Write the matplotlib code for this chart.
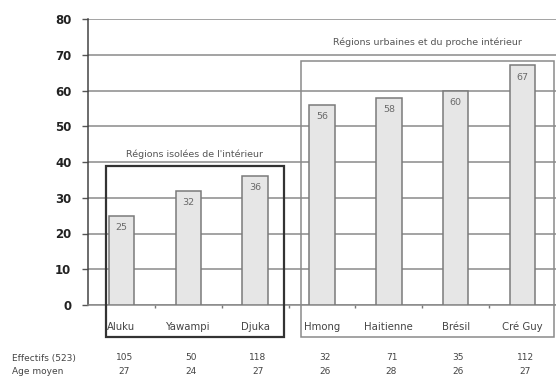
import matplotlib.pyplot as plt
from matplotlib.patches import Rectangle
import matplotlib.transforms as mtransforms

# Données par groupe
groupes = ['Aluku', 'Yawampi', 'Djuka', 'Hmong', 'Haitienne', 'Brésil', 'Cré Guy']
valeurs = [25, 32, 36, 56, 58, 60, 67]
effectifs = [105, 50, 118, 32, 71, 35, 112]
ages = [27, 24, 27, 26, 28, 26, 27]

plt.rcParams['font.family'] = ['DejaVu Sans']

fig = plt.figure(figsize=(5.56, 3.79), dpi=100)
ax = fig.add_axes([88 / 556, 1 - 305 / 379, 1 - 88 / 556, (305 - 19) / 379])

x = list(range(len(groupes)))
ax.bar(x, valeurs, width=0.38, color='#e6e6e6', edgecolor='#7a7a7a',
       linewidth=1.1, zorder=3)
for xi, v in zip(x, valeurs):
    ax.text(xi, v - 2.0, str(v), ha='center', va='top', fontsize=6.8,
            color='#6a6a6a', zorder=4)

ax.set_xlim(-0.5, 6.5)
ax.set_ylim(0, 80)
ax.set_yticks(range(0, 81, 10))
ax.yaxis.grid(True, color='#8a8a8a', linewidth=1.1, zorder=0)
ax.tick_params(axis='y', length=4, width=1, color='#555555', pad=8,
               labelsize=8.5, labelcolor='#222222')
for lab in ax.get_yticklabels():
    lab.set_fontweight('bold')

ax.set_xticks(x)
ax.set_xticklabels(groupes)
ax.tick_params(axis='x', which='major', length=0, pad=12, labelsize=7.3,
               labelcolor='#444444')
ax.set_xticks([i + 0.5 for i in x[:-1]], minor=True)
ax.tick_params(axis='x', which='minor', length=2, width=1, color='#777777')

for s in ['top', 'right']:
    ax.spines[s].set_visible(False)
ax.spines['left'].set_color('#444444')
ax.spines['left'].set_linewidth(1.1)
ax.spines['bottom'].set_color('#888888')
ax.spines['bottom'].set_linewidth(1.1)

# Encadrés des deux ensembles de régions
ax.add_patch(Rectangle((-0.231, -8.95), 2.661, 47.85, fill=False,
                       edgecolor='#333333', linewidth=1.6, clip_on=False, zorder=5))
ax.text(1.1, 42.3, "Régions isolées de l'intérieur", ha='center', va='center',
        fontsize=6.8, color='#555555')
ax.add_patch(Rectangle((2.686, -8.95), 3.78, 77.2, fill=False,
                       edgecolor='#8a8a8a', linewidth=1.1, clip_on=False, zorder=5))
ax.text(4.58, 73.6, "Régions urbaines et du proche intérieur", ha='center',
        va='center', fontsize=6.8, color='#555555')

# Lignes d'effectifs et d'âge moyen
trans = mtransforms.blended_transform_factory(ax.transData, fig.transFigure)
fig.text(12 / 556, 1 - 358 / 379, 'Effectifs (523)', fontsize=6.5, color='#444444',
         va='center')
fig.text(12 / 556, 1 - 372 / 379, 'Age moyen', fontsize=6.5, color='#444444',
         va='center')
for xi, e, a in zip(x, effectifs, ages):
    ax.text(xi + 0.04, 1 - 358 / 379, str(e), transform=trans, ha='center',
            va='center', fontsize=6.5, color='#444444')
    ax.text(xi + 0.04, 1 - 372 / 379, str(a), transform=trans, ha='center',
            va='center', fontsize=6.5, color='#444444')

fig.savefig('out.png', dpi=100)
